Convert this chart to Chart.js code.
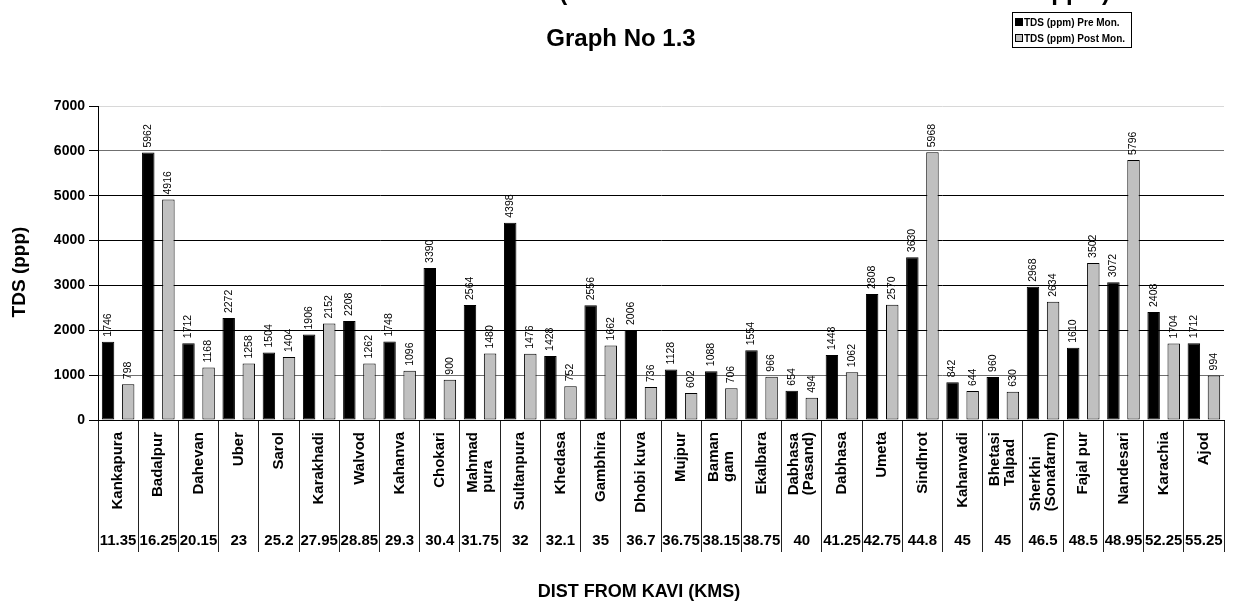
<!DOCTYPE html>
<html>
<head>
<meta charset="utf-8">
<script src="https://cdn.jsdelivr.net/npm/chart.js@4.4.1/dist/chart.umd.min.js"></script>
<style>
  html, body { margin: 0; padding: 0; background: #ffffff; }
  canvas { display: block; }
</style>
</head>
<body>
<canvas id="tds" width="1236" height="608"></canvas>
<script>
// Sampling stations along the river (name lines) and distance from Kavi in km
const stationNames = [
  ["Kankapura"], ["Badalpur"], ["Dahevan"], ["Uber"], ["Sarol"], ["Karakhadi"],
  ["Walvod"], ["Kahanva"], ["Chokari"], ["Mahmad", "pura"], ["Sultanpura"],
  ["Khedasa"], ["Gambhira"], ["Dhobi kuva"], ["Mujpur"], ["Baman", "gam"],
  ["Ekalbara"], ["Dabhasa", "(Pasand)"], ["Dabhasa"], ["Umeta"], ["Sindhrot"],
  ["Kahanvadi"], ["Bhetasi", "Talpad"], ["Sherkhi", "(Sonafarm)"], ["Fajal pur"],
  ["Nandesari"], ["Karachia"], ["Ajod"]
];
const distanceKm = [
  "11.35", "16.25", "20.15", "23", "25.2", "27.95", "28.85", "29.3", "30.4", "31.75",
  "32", "32.1", "35", "36.7", "36.75", "38.15", "38.75", "40", "41.25", "42.75",
  "44.8", "45", "45", "46.5", "48.5", "48.95", "52.25", "55.25"
];

// TDS in ppm before and after the monsoon
const tdsPreMonsoon = [
  1746, 5962, 1712, 2272, 1504, 1906, 2208, 1748, 3390, 2564,
  4398, 1428, 2556, 2006, 1128, 1088, 1554, 654, 1448, 2808,
  3630, 842, 960, 2968, 1610, 3072, 2408, 1712
];
const tdsPostMonsoon = [
  798, 4916, 1168, 1258, 1404, 2152, 1262, 1096, 900, 1480,
  1476, 752, 1662, 736, 602, 706, 966, 494, 1062, 2570,
  5968, 644, 630, 2634, 3502, 5796, 1704, 994
];

const seriesNames = ["TDS (ppm) Pre Mon.", "TDS (ppm) Post Mon."];
const yTickValues = [0, 1000, 2000, 3000, 4000, 5000, 6000, 7000];

const chartTitle = "Graph No 1.3";
const topTitle = "VARIATION IN TDS (PRE MONSOON AND POST MONSOON IN ppm)";
const xAxisTitle = "DIST FROM KAVI (KMS)";
const yAxisTitle = "TDS (ppp)";

const FONT = '"Liberation Sans", Arial, Helvetica, sans-serif';

// Value labels written vertically above every bar
const barValueLabels = {
  id: 'barValueLabels',
  afterDatasetsDraw(chart) {
    const ctx = chart.ctx;
    ctx.save();
    ctx.fillStyle = '#000';
    ctx.font = '10.5px ' + FONT;
    ctx.textAlign = 'left';
    ctx.textBaseline = 'middle';
    chart.data.datasets.forEach((ds, i) => {
      const meta = chart.getDatasetMeta(i);
      meta.data.forEach((bar, j) => {
        ctx.save();
        ctx.translate(bar.x, bar.y - 5);
        ctx.rotate(-Math.PI / 2);
        ctx.fillText(String(ds.data[j]), 0, 0);
        ctx.restore();
      });
    });
    ctx.restore();
  }
};

// Category cells below the axis, titles and the boxed legend
const decorations = {
  id: 'decorations',
  afterDraw(chart) {
    const ctx = chart.ctx;
    const xs = chart.scales.x;
    const area = chart.chartArea;
    ctx.save();
    ctx.fillStyle = '#000';

    // station names, rotated to read upward
    ctx.font = 'bold 15px ' + FONT;
    ctx.textBaseline = 'middle';
    const nameTop = 432;
    const lineGap = 15;
    stationNames.forEach((lines, i) => {
      const cx = xs.getPixelForValue(i);
      const w = Math.max(...lines.map(l => ctx.measureText(l).width));
      lines.forEach((line, k) => {
        const dx = (k - (lines.length - 1) / 2) * lineGap;
        ctx.save();
        ctx.translate(cx + dx, nameTop);
        ctx.rotate(-Math.PI / 2);
        ctx.textAlign = 'left';
        ctx.fillText(line, -w, 0);
        ctx.restore();
      });
    });

    // distances
    ctx.font = 'bold 15px ' + FONT;
    ctx.textAlign = 'center';
    ctx.textBaseline = 'middle';
    distanceKm.forEach((d, i) => {
      ctx.fillText(d, xs.getPixelForValue(i), 541);
    });

    // axis titles
    ctx.font = 'bold 18px ' + FONT;
    ctx.textAlign = 'center';
    ctx.textBaseline = 'middle';
    ctx.fillText(xAxisTitle, 639, 592);

    ctx.save();
    ctx.font = 'bold 19px ' + FONT;
    ctx.translate(20, (area.top + area.bottom) / 2 + 9);
    ctx.rotate(-Math.PI / 2);
    ctx.fillText(yAxisTitle, 0, 0);
    ctx.restore();

    // headings (the upper one runs off the top edge)
    ctx.font = 'bold 24px ' + FONT;
    ctx.textBaseline = 'alphabetic';
    ctx.textAlign = 'right';
    ctx.fillText(topTitle, 1110, 0);
    ctx.textAlign = 'center';
    ctx.fillText(chartTitle, 621, 46);

    // legend
    const lx = 1012, ly = 12, lw = 119, lh = 35;
    ctx.fillStyle = '#fff';
    ctx.fillRect(lx, ly, lw, lh);
    ctx.strokeStyle = '#000';
    ctx.lineWidth = 1;
    ctx.strokeRect(lx + 0.5, ly + 0.5, lw, lh);
    ctx.font = 'bold 10px ' + FONT;
    ctx.textAlign = 'left';
    ctx.textBaseline = 'alphabetic';
    chart.data.datasets.forEach((ds, i) => {
      const base = 26 + i * 16;
      ctx.fillStyle = ds.backgroundColor;
      ctx.fillRect(1015, base - 8, 8, 8);
      ctx.strokeStyle = '#000';
      ctx.strokeRect(1015.5, base - 7.5, 7, 7);
      ctx.fillStyle = '#000';
      ctx.fillText(ds.label, 1024, base);
    });
    ctx.restore();
  }
};

new Chart(document.getElementById('tds'), {
  type: 'bar',
  data: {
    labels: stationNames.map(l => l.join(' ')),
    datasets: [
      {
        label: seriesNames[0],
        data: tdsPreMonsoon,
        backgroundColor: '#000000',
        borderColor: '#000000',
        borderWidth: 1,
        borderSkipped: false
      },
      {
        label: seriesNames[1],
        data: tdsPostMonsoon,
        backgroundColor: '#c0c0c0',
        borderColor: '#000000',
        borderWidth: 1,
        borderSkipped: false
      }
    ]
  },
  options: {
    responsive: false,
    devicePixelRatio: 1,
    animation: false,
    layout: { padding: { top: 106, right: 12, bottom: 0, left: 0 } },
    datasets: { bar: { categoryPercentage: 1, barPercentage: 0.62 } },
    plugins: {
      legend: { display: false },
      title: { display: false },
      tooltip: { enabled: false }
    },
    scales: {
      x: {
        offset: true,
        ticks: { display: false },
        grid: {
          offset: true,
          drawOnChartArea: false,
          drawTicks: true,
          tickLength: 132,
          color: '#222',
          lineWidth: 1
        },
        border: { display: true, color: '#000', width: 1 },
        afterFit(scale) { scale.height = 188; }
      },
      y: {
        min: 0,
        max: 7000,
        afterBuildTicks(scale) { scale.ticks = yTickValues.map(v => ({ value: v })); },
        ticks: {
          color: '#000',
          padding: 4,
          font: { family: FONT, size: 14, weight: 'bold' },
          callback: v => String(v)
        },
        grid: {
          color(c) {
            const v = c.tick ? c.tick.value : 0;
            if (v === 7000) return '#d8d8d8';
            if (v === 6000 || v === 1000) return '#707070';
            return '#000';
          },
          tickColor: '#000',
          tickLength: 9,
          lineWidth: 1
        },
        border: { display: true, color: '#000', width: 1 },
        afterFit(scale) { scale.width = 98; }
      }
    }
  },
  plugins: [barValueLabels, decorations]
});
</script>
</body>
</html>
